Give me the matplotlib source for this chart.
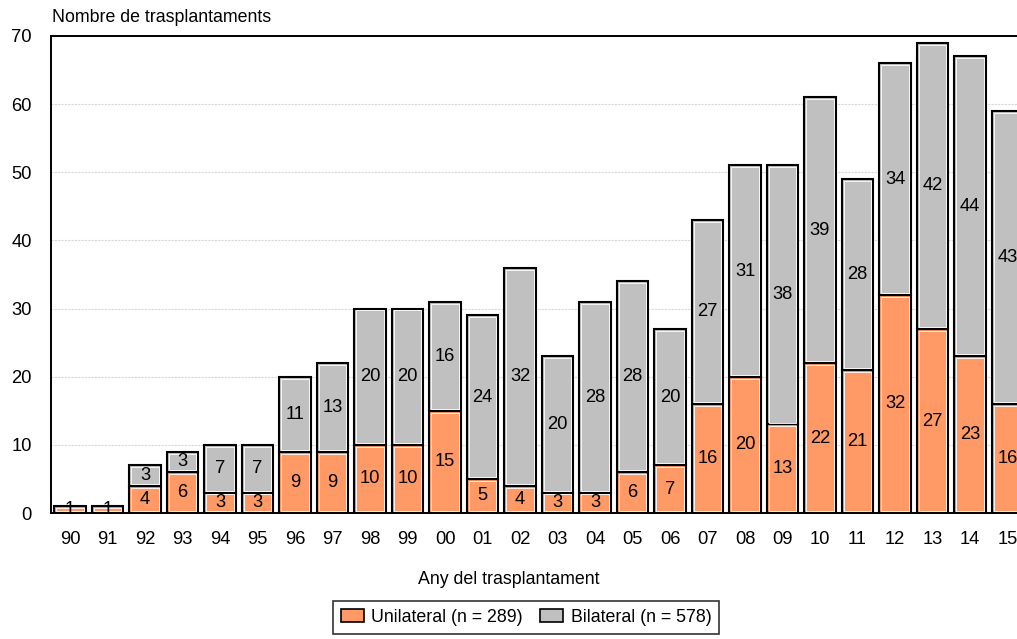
import matplotlib
matplotlib.use("Agg")
import matplotlib.pyplot as plt
import numpy as np
from matplotlib.patches import Patch

years = ["90", "91", "92", "93", "94", "95", "96", "97", "98", "99", "00", "01", "02",
         "03", "04", "05", "06", "07", "08", "09", "10", "11", "12", "13", "14", "15"]
unilateral = [1, 1, 4, 6, 3, 3, 9, 9, 10, 10, 15, 5, 4, 3, 3, 6, 7, 16, 20, 13, 22, 21, 32, 27, 23, 16]
bilateral = [0, 0, 3, 3, 7, 7, 11, 13, 20, 20, 16, 24, 32, 20, 28, 28, 20, 27, 31, 38, 39, 28, 34, 42, 44, 43]

plt.rcParams['font.family'] = ['Liberation Sans', 'DejaVu Sans']

W, H = 1017, 639
fig = plt.figure(figsize=(W / 100, H / 100), dpi=100)
step = 37.5
left_px = 70 - 0.5 * step
ax = fig.add_axes([left_px / W, (H - 513) / H, 26 * step / W, (513 - 36) / H])

x = np.arange(len(years))
uni = np.array(unilateral)
bil = np.array(bilateral)
width = 0.84
orange = "#FF9966"
grey = "#C0C0C0"

ypx = (513 - 36) / 70.0
dx = 1.9 / step
dy = 1.9 / ypx

mask = bil > 0
# outer black edge
ax.bar(x, uni, width, color=orange, edgecolor="black", linewidth=1.5, zorder=3)
ax.bar(x[mask], bil[mask], width, bottom=uni[mask], color=grey, edgecolor="black", linewidth=1.5, zorder=3)
# inner white line
ax.bar(x, uni - 2 * dy, width - 2 * dx, bottom=dy, color=orange, edgecolor="white", linewidth=0.6, zorder=4)
ax.bar(x[mask], bil[mask] - 2 * dy, width - 2 * dx, bottom=uni[mask] + dy, color=grey,
       edgecolor="white", linewidth=0.6, zorder=4)

fs = 12.8
for xi, u, b in zip(x, uni, bil):
    ax.text(xi, u / 2, str(u), ha="center", va="center", fontsize=13.2, zorder=6)
    if b > 0:
        ax.text(xi, u + b / 2, str(b), ha="center", va="center", fontsize=13.2, zorder=6)

ax.set_xlim(-0.5, 25.5)
ax.set_ylim(0, 70)
ax.set_yticks(range(0, 71, 10))
ax.set_xticks(x)
ax.set_xticklabels(years)
ax.tick_params(axis="both", length=0, labelsize=13.2)
ax.tick_params(axis="x", pad=13)
ax.tick_params(axis="y", pad=14)
ax.yaxis.grid(True, color="#D8D8D8", linestyle=(0, (2, 1)), linewidth=0.8, zorder=0)
ax.set_axisbelow(True)
for s in ["left", "bottom", "top"]:
    ax.spines[s].set_linewidth(1.4)
    ax.spines[s].set_color("black")
ax.spines["right"].set_visible(False)

fig.text(52 / W, (H - 18) / H, "Nombre de trasplantaments", fontsize=fs, ha="left", va="center")
fig.text(0.5, (H - 579) / H, "Any del trasplantament", fontsize=fs, ha="center", va="center")

handles = [Patch(facecolor=orange, edgecolor="black", linewidth=1.2, label="Unilateral (n = 289)"),
           Patch(facecolor=grey, edgecolor="black", linewidth=1.2, label="Bilateral (n = 578)")]
leg = fig.legend(handles=handles, loc="center", bbox_to_anchor=(526 / W, (H - 617) / H), ncol=2,
                 frameon=True, fancybox=False, edgecolor="black", fontsize=fs,
                 handlelength=1.3, handleheight=0.8, handletextpad=0.4, columnspacing=1.0,
                 borderpad=0.45, borderaxespad=0)
leg.get_frame().set_linewidth(1.2)

fig.savefig("out.png", dpi=100)
